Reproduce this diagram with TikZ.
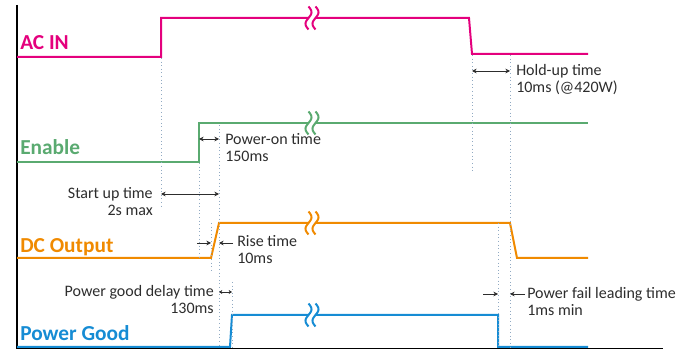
\documentclass[tikz,border=0pt]{standalone}
\usepackage{fontspec}
\setmainfont{Carlito}
\usepackage{xcolor}
\usetikzlibrary{arrows.meta}

\definecolor{acpink}{RGB}{228,0,125}
\definecolor{engreen}{RGB}{90,170,112}
\definecolor{dcorange}{RGB}{240,138,0}
\definecolor{pgblue}{RGB}{22,140,212}
\definecolor{guidegray}{RGB}{145,170,195}
\definecolor{notegray}{RGB}{45,45,45}

% break mark on a signal: x, y, colour
\newcommand\breakmark[3]{%
  \fill[white] ({#1-3.5},{#2-3}) rectangle ({#1+3.5},{#2+3});
  \draw[signal, #3] plot[domain=-0.5:0.5, samples=25] ({#1-3.5-3*sin(360*\x)},{#2+23*\x});
  \draw[signal, #3] plot[domain=-0.5:0.5, samples=25] ({#1+3.5-3*sin(360*\x)},{#2+23*\x});
}

\begin{document}
\begin{tikzpicture}[
    x=0.75pt, y=-0.75pt,
    signal/.style={line width=1.5pt},
    guide/.style={draw=guidegray, dotted, line width=0.7pt},
    span/.style={<->, >={Stealth[length=3.5pt, width=3.5pt]}, line width=0.7pt, draw=notegray},
    pointer/.style={->, >={Stealth[length=3.5pt, width=3.5pt]}, line width=0.7pt, draw=notegray},
    note/.style={text=notegray, inner sep=0pt, font=\fontsize{12}{12.75}\selectfont},
    signame/.style={anchor=base west, inner sep=0pt, font=\fontsize{16}{18}\selectfont\bfseries}
]
    \useasboundingbox (0,0) rectangle (697,349);

    % Axes
    \draw[black, line width=0.8pt] (17,5) -- (17,348.5) -- (663,348.5);

    % AC IN
    \draw[signal, acpink] (17,57) -- (161,57) -- (161,18) -- (469,18) -- (472,54) -- (588,54);
    \breakmark{312}{18}{acpink}
    \node[signame, text=acpink] (acin) at (20,50) {AC IN};

    % Enable
    \draw[signal, engreen] (17,162) -- (199,162) -- (199,123) -- (588,123);
    \breakmark{312}{123}{engreen}
    \node[signame, text=engreen] (enable) at (20,155) {Enable};

    % DC Output
    \draw[signal, dcorange] (17,258) -- (211,258) -- (219,223) -- (510,223) -- (517,258) -- (588,258);
    \breakmark{312}{223}{dcorange}
    \node[signame, text=dcorange] (dcout) at (20,253) {DC Output};

    % Power Good
    \draw[signal, pgblue] (17,347) -- (230,347) -- (232,315) -- (498,315) -- (498,347) -- (588,347);
    \breakmark{312}{315}{pgblue}
    \node[signame, text=pgblue] (pgood) at (20,340) {Power Good};

    % Guide lines
    \draw[guide] (161,58) -- (161,208);
    \draw[guide] (199,163) -- (199,257);
    \draw[guide] (219,125) -- (219,348);
    \draw[guide] (211,223) -- (211,272);
    \draw[guide] (232,282) -- (232,348);
    \draw[guide] (472,55) -- (472,172);
    \draw[guide] (510,55) -- (510,348);
    \draw[guide] (498,223) -- (498,348);

    % Timing marks
    \coordinate (hu1) at (472,71);  \coordinate (hu2) at (510,71);
    \coordinate (po1) at (199,139); \coordinate (po2) at (219,139);
    \coordinate (su1) at (161,194); \coordinate (su2) at (219,194);
    \coordinate (ri0) at (197,243); \coordinate (ri1) at (211,243);
    \coordinate (ri2) at (219,243); \coordinate (ri3) at (233,243);
    \coordinate (pd1) at (219,292); \coordinate (pd2) at (232,292);
    \coordinate (pf0) at (483,294); \coordinate (pf1) at (498,294);
    \coordinate (pf2) at (510,294); \coordinate (pf3) at (525,294);

    \draw[span] (hu1) -- (hu2);
    \draw[span] (po1) -- (po2);
    \draw[span] (su1) -- (su2);
    \draw[pointer] (ri0) -- (ri1);
    \draw[pointer] (ri3) -- (ri2);
    \draw[span, >={Stealth[length=2.5pt, width=3pt]}] (pd1) -- (pd2);
    \draw[pointer] (pf0) -- (pf1);
    \draw[pointer] (pf3) -- (pf2);

    % Labels
    \node[note, anchor=west, align=left] (holdup) at (516,80) {Hold-up time\\10ms (@420W)};
    \node[note, anchor=west, align=left] (poweron) at (225,148) {Power-on time\\150ms};
    \node[note, anchor=east, align=right] (startup) at (153,202) {Start up time\\2s max};
    \node[note, anchor=west, align=left] (rise) at (237,250) {Rise time\\10ms};
    \node[note, anchor=east, align=right] (pgdelay) at (214,300) {Power good delay time\\130ms};
    \node[note, anchor=west, align=left] (pfail) at (527,302) {Power fail leading time\\1ms min};
\end{tikzpicture}
\end{document}
